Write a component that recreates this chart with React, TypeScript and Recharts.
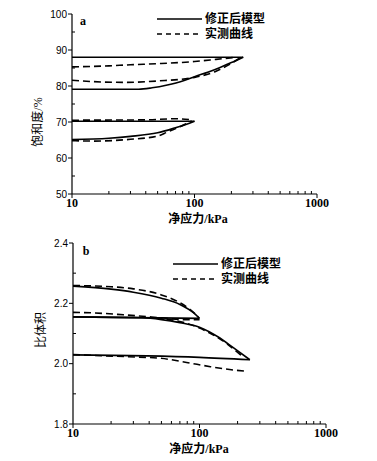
import React from "react";
import { LineChart, Line, XAxis, YAxis } from "recharts";

type Pt = { p: number; v: number };

// panel a: saturation (%) vs net stress (kPa)
const satModelTop: Pt[] = [{ p: 10, v: 88 }, { p: 250, v: 88 }];
const satModelLoad: Pt[] = [
	{ p: 10, v: 79.1 }, { p: 35, v: 79.1 }, { p: 45, v: 79.5 }, { p: 60, v: 80.3 }, { p: 80, v: 81.4 },
	{ p: 100, v: 82.6 }, { p: 130, v: 83.9 }, { p: 160, v: 85.1 }, { p: 200, v: 86.5 }, { p: 250, v: 88 },
];
const satModelMid: Pt[] = [{ p: 10, v: 70.2 }, { p: 100, v: 70.2 }];
const satModelLow: Pt[] = [
	{ p: 10, v: 65.1 }, { p: 20, v: 65.5 }, { p: 30, v: 66 }, { p: 50, v: 67 }, { p: 70, v: 68.4 },
	{ p: 85, v: 69.3 }, { p: 100, v: 70.2 },
];
const satMeasTop: Pt[] = [
	{ p: 10, v: 85.3 }, { p: 20, v: 85.6 }, { p: 30, v: 85.9 }, { p: 50, v: 86.2 }, { p: 100, v: 86.8 },
	{ p: 150, v: 87.4 }, { p: 220, v: 88 },
];
const satMeasLoad: Pt[] = [
	{ p: 10, v: 81.6 }, { p: 18, v: 81.1 }, { p: 28, v: 81.0 }, { p: 50, v: 81.4 }, { p: 100, v: 82.4 },
	{ p: 150, v: 84.1 }, { p: 200, v: 86.3 }, { p: 240, v: 88 },
];
const satMeasMid: Pt[] = [{ p: 10, v: 70.5 }, { p: 40, v: 70.6 }, { p: 70, v: 70.9 }, { p: 95, v: 70.6 }];
const satMeasLow: Pt[] = [
	{ p: 10, v: 64.8 }, { p: 15, v: 64.7 }, { p: 30, v: 65.2 }, { p: 50, v: 66.1 }, { p: 60, v: 67.2 },
	{ p: 75, v: 68.6 }, { p: 95, v: 70.3 },
];

// panel b: specific volume vs net stress (kPa)
const volModelTop: Pt[] = [
	{ p: 10, v: 2.257 }, { p: 20, v: 2.247 }, { p: 30, v: 2.237 }, { p: 50, v: 2.217 }, { p: 70, v: 2.196 },
	{ p: 90, v: 2.168 }, { p: 100, v: 2.15 },
];
const volModelMid: Pt[] = [{ p: 10, v: 2.155 }, { p: 100, v: 2.15 }];
const volModelLoad: Pt[] = [
	{ p: 10, v: 2.155 }, { p: 35, v: 2.152 }, { p: 50, v: 2.146 }, { p: 70, v: 2.136 }, { p: 100, v: 2.121 },
	{ p: 145, v: 2.085 }, { p: 185, v: 2.053 }, { p: 250, v: 2.013 },
];
const volModelLow: Pt[] = [{ p: 10, v: 2.029 }, { p: 100, v: 2.021 }, { p: 250, v: 2.013 }];
const volMeasTop: Pt[] = [
	{ p: 10, v: 2.259 }, { p: 20, v: 2.255 }, { p: 30, v: 2.248 }, { p: 50, v: 2.228 }, { p: 70, v: 2.202 },
	{ p: 85, v: 2.178 }, { p: 98, v: 2.155 },
];
const volMeasMid: Pt[] = [
	{ p: 10, v: 2.17 }, { p: 15, v: 2.168 }, { p: 25, v: 2.162 }, { p: 50, v: 2.152 }, { p: 75, v: 2.146 },
	{ p: 100, v: 2.146 },
];
const volMeasLoad: Pt[] = [
	{ p: 45, v: 2.152 }, { p: 80, v: 2.133 }, { p: 130, v: 2.094 }, { p: 165, v: 2.066 }, { p: 210, v: 2.03 },
	{ p: 225, v: 2.02 },
];
const volMeasLow: Pt[] = [
	{ p: 10, v: 2.03 }, { p: 27, v: 2.023 }, { p: 49, v: 2.018 }, { p: 79, v: 2.004 }, { p: 122, v: 1.99 },
	{ p: 186, v: 1.979 }, { p: 235, v: 1.975 },
];

const xTicks = [10, 20, 30, 40, 50, 60, 70, 80, 90, 100, 200, 300, 400, 500, 600, 700, 800, 900, 1000];
const xMajor = [10, 100, 1000];
const satTicks = [50, 55, 60, 65, 70, 75, 80, 85, 90, 95, 100];
const satMajor = [50, 60, 70, 80, 90, 100];
const volTicks = [1.8, 1.9, 2.0, 2.1, 2.2, 2.3, 2.4];
const volMajor = ["1.8", "2.0", "2.2", "2.4"];

const legendModel = "修正后模型";
const legendMeas = "实测曲线";
const xTitle = "净应力/kPa";

const cjk = "'Liberation Serif', 'Noto Sans CJK SC', serif";
const dash = "7 4";

function XTick(props: any) {
	const { x, y, payload } = props;
	const major = xMajor.includes(payload.value);
	return <g>
		<line x1={x} x2={x} y1={y} y2={major ? y + 4 : y - 3} stroke="#000" strokeWidth={1} />
		{major && <text x={x} y={y + 12.5} textAnchor="middle" fontFamily="'Liberation Serif', serif"
			fontWeight="bold" fontSize={12} fill="#000">{payload.value}</text>}
	</g>;
}

function makeYTick(isMajor: (v: number) => boolean, fmt: (v: number) => string) {
	return (props: any) => {
		const { x, y, payload } = props;
		const major = isMajor(payload.value);
		return <g>
			<line x1={x} x2={major ? x - 4 : x + 3} y1={y} y2={y} stroke="#000" strokeWidth={1} />
			{major && <text x={x - 5} y={y} dy="0.35em" textAnchor="end" fontFamily="'Liberation Sans', Arial, sans-serif"
				fontSize={10} fill="#000">{fmt(payload.value)}</text>}
		</g>;
	};
}

const satTick = makeYTick((v) => satMajor.includes(v), (v) => String(v));
const volTick = makeYTick((v) => volMajor.includes(v.toFixed(1)), (v) => v.toFixed(1));

function series(data: Pt[], dashed: boolean, key: string) {
	return <Line key={key} data={data} dataKey="v" type="monotone" stroke="#000" strokeWidth={1.6}
		strokeDasharray={dashed ? dash : undefined} dot={false} activeDot={false} isAnimationActive={false} />;
}

function Legend(props: { x: number, y: number }) {
	const { x, y } = props;
	return <g>
		<line x1={x} x2={x + 45} y1={y} y2={y} stroke="#000" strokeWidth={1.3} />
		<text x={x + 48} y={y} dy="0.35em" fontFamily={cjk} fontWeight="bold" fontSize={12} fill="#000">{legendModel}</text>
		<line x1={x} x2={x + 45} y1={y + 15} y2={y + 15} stroke="#000" strokeWidth={1.3} strokeDasharray="5 4" />
		<text x={x + 48} y={y + 15} dy="0.35em" fontFamily={cjk} fontWeight="bold" fontSize={12} fill="#000">{legendMeas}</text>
	</g>;
}

export default function App() {
	const axisLine = { stroke: "#000", strokeWidth: 1.2 };
	return <div style={{ position: "absolute", left: 0, top: 0, width: 377, height: 461, background: "#fff" }}>
		<div style={{ position: "absolute", left: 0, top: 0 }}>
			<LineChart width={377} height={230} margin={{ top: 14, right: 60, bottom: 6, left: 32 }}>
				<XAxis type="number" dataKey="p" scale="log" domain={[10, 1000]} ticks={xTicks} interval={0}
					allowDataOverflow tick={XTick} tickLine={false} tickSize={0} tickMargin={0} height={30} axisLine={axisLine} />
				<YAxis type="number" dataKey="v" domain={[50, 100]} ticks={satTicks} interval={0}
					tick={satTick} tickLine={false} tickSize={0} tickMargin={0} width={40} axisLine={axisLine} />
				{series(satModelTop, false, "a1")}
				{series(satModelLoad, false, "a2")}
				{series(satModelMid, false, "a3")}
				{series(satModelLow, false, "a4")}
				{series(satMeasTop, true, "a5")}
				{series(satMeasLoad, true, "a6")}
				{series(satMeasMid, true, "a7")}
				{series(satMeasLow, true, "a8")}
			</LineChart>
		</div>
		<div style={{ position: "absolute", left: 0, top: 230 }}>
			<LineChart width={377} height={231} margin={{ top: 13, right: 51, bottom: 7, left: 33 }}>
				<XAxis type="number" dataKey="p" scale="log" domain={[10, 1000]} ticks={xTicks} interval={0}
					allowDataOverflow tick={XTick} tickLine={false} tickSize={0} tickMargin={0} height={30} axisLine={axisLine} />
				<YAxis type="number" dataKey="v" domain={[1.8, 2.4]} ticks={volTicks} interval={0}
					tick={volTick} tickLine={false} tickSize={0} tickMargin={0} width={40} axisLine={axisLine} />
				{series(volModelTop, false, "b1")}
				{series(volModelMid, false, "b2")}
				{series(volModelLoad, false, "b3")}
				{series(volModelLow, false, "b4")}
				{series(volMeasTop, true, "b5")}
				{series(volMeasMid, true, "b6")}
				{series(volMeasLoad, true, "b7")}
				{series(volMeasLow, true, "b8")}
			</LineChart>
		</div>
		<svg width={377} height={461} style={{ position: "absolute", left: 0, top: 0, pointerEvents: "none" }}>
			<Legend x={157} y={19} />
			<Legend x={173} y={264} />
			<text x={83} y={21} dy="0.35em" textAnchor="middle" fontFamily="'Liberation Serif', serif" fontWeight="bold" fontSize={12}>a</text>
			<text x={86} y={251} dy="0.35em" textAnchor="middle" fontFamily="'Liberation Serif', serif" fontWeight="bold" fontSize={12}>b</text>
			<text x={198} y={219} dy="0.35em" textAnchor="middle" fontFamily={cjk} fontWeight="bold" fontSize={12}>{xTitle}</text>
			<text x={199} y={449} dy="0.35em" textAnchor="middle" fontFamily={cjk} fontWeight="bold" fontSize={12}>{xTitle}</text>
			<text transform="translate(38,122) rotate(-90)" dy="0.35em" textAnchor="middle" fontFamily={cjk} fontSize={12}>饱和度/%</text>
			<text transform="translate(41,330) rotate(-90)" dy="0.35em" textAnchor="middle" fontFamily={cjk} fontSize={12}>比体积</text>
		</svg>
	</div>;
}
